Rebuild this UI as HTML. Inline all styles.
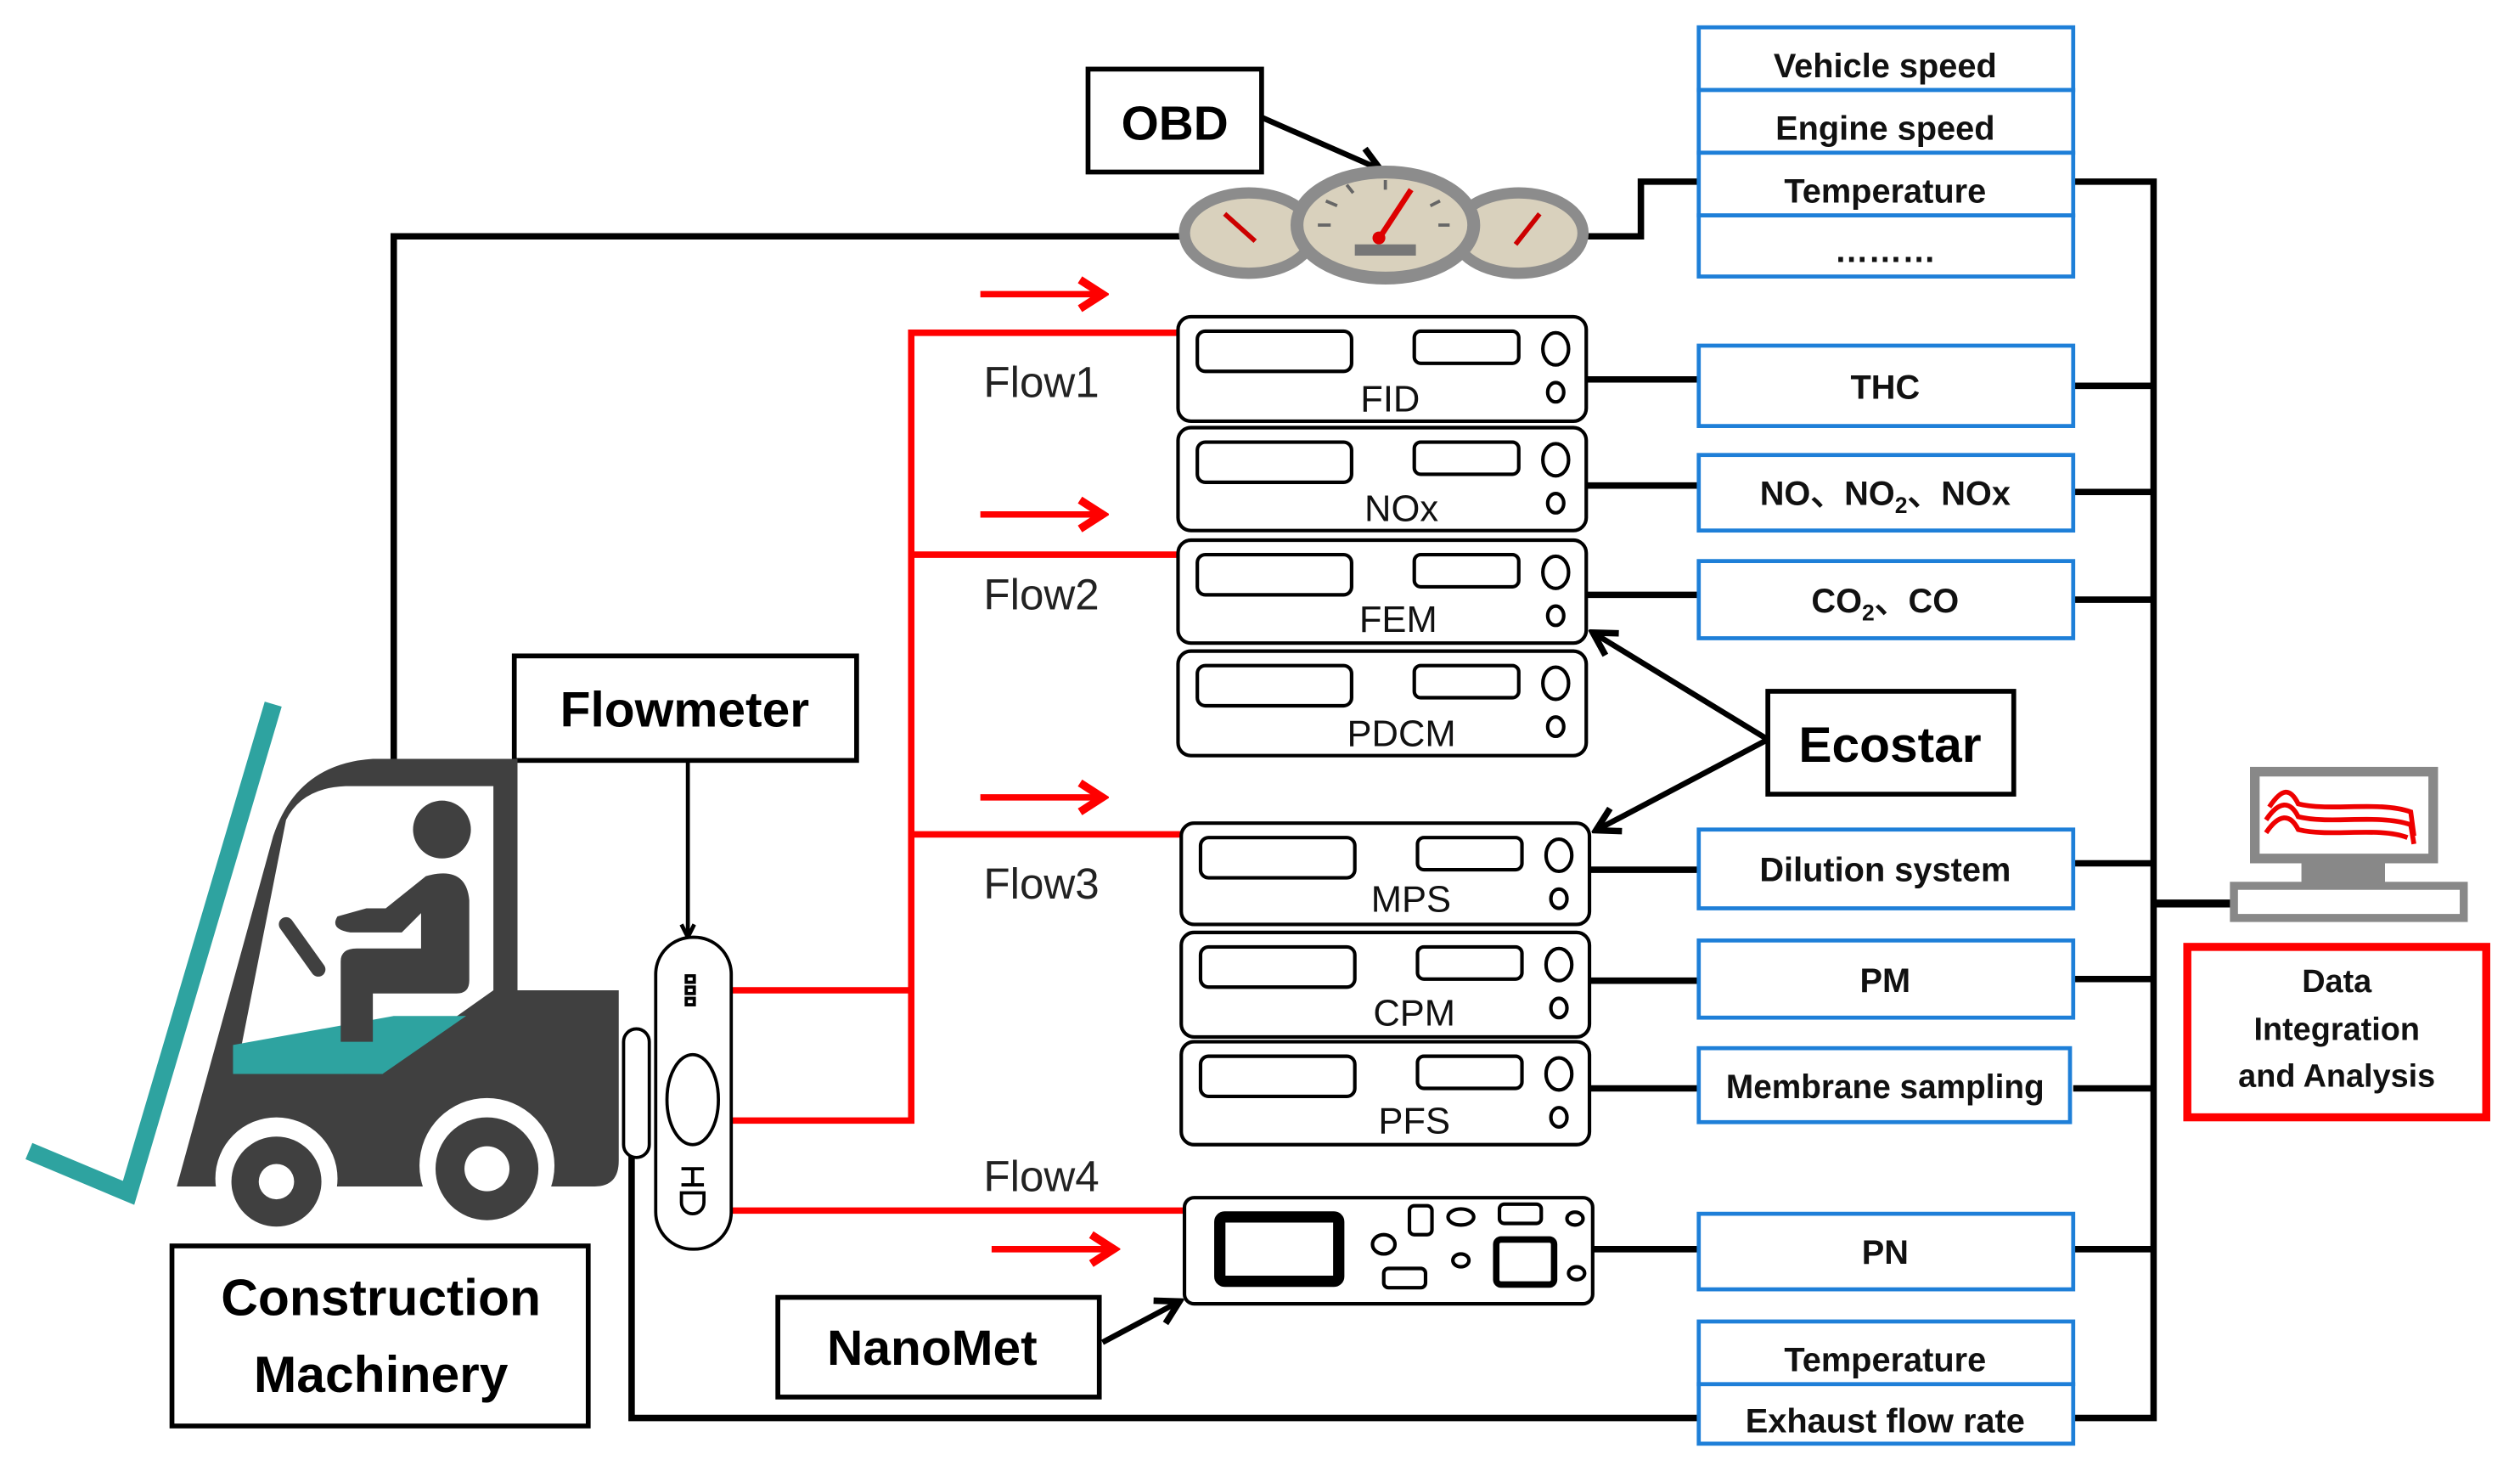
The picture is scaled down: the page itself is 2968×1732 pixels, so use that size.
<!DOCTYPE html>
<html><head><meta charset="utf-8"><style>
html,body{margin:0;padding:0;background:#fff;width:2968px;height:1732px;overflow:hidden}
svg{display:block}
text{font-family:"Liberation Sans",sans-serif}
.b{font-weight:bold}
</style></head><body>
<svg width="2968" height="1732" viewBox="0 0 1568 915" preserveAspectRatio="none" xmlns="http://www.w3.org/2000/svg">
<defs>
<marker id="ah" markerWidth="10" markerHeight="10" refX="8" refY="5" orient="auto" markerUnits="userSpaceOnUse">
<path d="M1,1 L9,5 L1,9" fill="none" stroke="#000" stroke-width="2.5"/>
</marker>
<marker id="ah2" markerWidth="20" markerHeight="20" refX="16" refY="10" orient="auto" markerUnits="userSpaceOnUse">
<path d="M3,2 L17,10 L3,18" fill="none" stroke="#000" stroke-width="4"/>
</marker>
<marker id="rh" markerWidth="24" markerHeight="24" refX="20" refY="12" orient="auto" markerUnits="userSpaceOnUse">
<path d="M6,3 L20,12 L6,21" fill="none" stroke="#f00" stroke-width="5"/>
</marker>
</defs>

<!-- black connectors -->
<g stroke="#000" stroke-width="4" fill="none">
<polyline points="245,475 245,147 735,147"/>
<polyline points="985,147 1021,147 1021,113 1057,113"/>
<polyline points="1290,113 1340,113 1340,882 1290,882"/>
<polyline points="393,690 393,882 1057,882"/>
<line x1="987" y1="236" x2="1057" y2="236"/>
<line x1="1290" y1="240" x2="1340" y2="240"/>
<line x1="987" y1="302" x2="1057" y2="302"/>
<line x1="1290" y1="306" x2="1340" y2="306"/>
<line x1="987" y1="370" x2="1057" y2="370"/>
<line x1="1290" y1="373" x2="1340" y2="373"/>
<line x1="989" y1="541" x2="1057" y2="541"/>
<line x1="1290" y1="537" x2="1340" y2="537"/>
<line x1="989" y1="610" x2="1057" y2="610"/>
<line x1="1290" y1="609" x2="1340" y2="609"/>
<line x1="989" y1="677" x2="1057" y2="677"/>
<line x1="1290" y1="677" x2="1340" y2="677"/>
<line x1="991" y1="777" x2="1057" y2="777"/>
<line x1="1290" y1="777" x2="1340" y2="777"/>
<line x1="1340" y1="562" x2="1392" y2="562" stroke-width="5"/>
</g>

<!-- red flow lines -->
<g stroke="#f00" stroke-width="4" fill="none">
<polyline points="733,207 567,207 567,697 453,697"/>
<line x1="567" y1="345" x2="733" y2="345"/>
<line x1="567" y1="519" x2="735" y2="519"/>
<line x1="453" y1="616" x2="567" y2="616"/>
<line x1="453" y1="753" x2="737" y2="753"/>
<line x1="610" y1="183" x2="686" y2="183" marker-end="url(#rh)"/>
<line x1="610" y1="320" x2="686" y2="320" marker-end="url(#rh)"/>
<line x1="610" y1="496" x2="686" y2="496" marker-end="url(#rh)"/>
<line x1="617" y1="777" x2="693" y2="777" marker-end="url(#rh)"/>
</g>

<g class="b" font-size="27" fill="#000"></g>
<g font-size="27" fill="#222">
<text x="612" y="247">Flow1</text>
<text x="612" y="379">Flow2</text>
<text x="612" y="559">Flow3</text>
<text x="612" y="741">Flow4</text>
</g>

<!-- OBD -->
<rect x="677" y="43" width="108" height="64" fill="#fff" stroke="#000" stroke-width="3"/>
<text x="731" y="87" class="b" font-size="30" text-anchor="middle">OBD</text>
<line x1="785" y1="73" x2="858" y2="105" stroke="#000" stroke-width="3.5" marker-end="url(#ah2)"/>

<!-- gauges -->
<g>
<ellipse cx="777" cy="145" rx="40" ry="25" fill="#d9d1bd" stroke="#8c8c8c" stroke-width="7"/>
<ellipse cx="945" cy="145" rx="40" ry="25" fill="#d9d1bd" stroke="#8c8c8c" stroke-width="7"/>
<line x1="762" y1="133" x2="781" y2="150" stroke="#c00" stroke-width="3"/>
<line x1="958" y1="133" x2="943" y2="152" stroke="#c00" stroke-width="3"/>
<ellipse cx="862" cy="140" rx="55" ry="33" fill="#d9d1bd" stroke="#8c8c8c" stroke-width="8"/>
<line x1="878" y1="118" x2="857" y2="150" stroke="#d00" stroke-width="3.5"/>
<circle cx="858" cy="148" r="4" fill="#d00"/>
<rect x="843" y="152" width="38" height="7" fill="#777"/>
<g stroke="#666" stroke-width="2">
<line x1="820" y1="140" x2="828" y2="140"/><line x1="825" y1="125" x2="832" y2="128"/>
<line x1="838" y1="115" x2="842" y2="120"/><line x1="862" y1="112" x2="862" y2="118"/>
<line x1="896" y1="125" x2="890" y2="128"/><line x1="902" y1="140" x2="895" y2="140"/>
</g>
</g>

<!-- right top blue stack -->
<g fill="#fff" stroke="#1e7fd8" stroke-width="2.5">
<rect x="1057" y="17" width="233" height="39"/>
<rect x="1057" y="56" width="233" height="39"/>
<rect x="1057" y="95" width="233" height="39"/>
<rect x="1057" y="134" width="233" height="38"/>
<rect x="1057" y="215" width="233" height="50"/>
<rect x="1057" y="283" width="233" height="47"/>
<rect x="1057" y="349" width="233" height="48"/>
<rect x="1057" y="516" width="233" height="49"/>
<rect x="1057" y="585" width="233" height="48"/>
<rect x="1057" y="652" width="231" height="46"/>
<rect x="1057" y="755" width="233" height="47"/>
<rect x="1057" y="822" width="233" height="39"/>
<rect x="1057" y="861" width="233" height="37"/>
</g>
<g class="b" font-size="21" text-anchor="middle" fill="#111">
<text x="1173" y="48">Vehicle speed</text>
<text x="1173" y="87">Engine speed</text>
<text x="1173" y="126">Temperature</text>
<text x="1173" y="163">………</text>
<text x="1173" y="248">THC</text>
<text x="1173" y="314">NO、NO<tspan font-size="14" dy="5">2</tspan><tspan dy="-5">、NOx</tspan></text>
<text x="1173" y="381">CO<tspan font-size="14" dy="5">2</tspan><tspan dy="-5">、CO</tspan></text>
<text x="1173" y="548">Dilution system</text>
<text x="1173" y="617">PM</text>
<text x="1173" y="683" textLength="198" lengthAdjust="spacingAndGlyphs">Membrane sampling</text>
<text x="1173" y="786">PN</text>
<text x="1173" y="853">Temperature</text>
<text x="1173" y="891">Exhaust flow rate</text>
</g>

<!-- instruments -->
<g fill="#fff" stroke="#000" stroke-width="2.2">
<g transform="translate(733,197)"><rect width="254" height="65" rx="8"/><rect x="12" y="9" width="96" height="25" rx="5"/><rect x="147" y="9" width="65" height="20" rx="4"/><ellipse cx="235" cy="20" rx="8" ry="10"/><ellipse cx="235" cy="47" rx="5" ry="6"/></g>
<g transform="translate(733,266)"><rect width="254" height="64" rx="8"/><rect x="12" y="9" width="96" height="25" rx="5"/><rect x="147" y="9" width="65" height="20" rx="4"/><ellipse cx="235" cy="20" rx="8" ry="10"/><ellipse cx="235" cy="47" rx="5" ry="6"/></g>
<g transform="translate(733,336)"><rect width="254" height="64" rx="8"/><rect x="12" y="9" width="96" height="25" rx="5"/><rect x="147" y="9" width="65" height="20" rx="4"/><ellipse cx="235" cy="20" rx="8" ry="10"/><ellipse cx="235" cy="47" rx="5" ry="6"/></g>
<g transform="translate(733,405)"><rect width="254" height="65" rx="8"/><rect x="12" y="9" width="96" height="25" rx="5"/><rect x="147" y="9" width="65" height="20" rx="4"/><ellipse cx="235" cy="20" rx="8" ry="10"/><ellipse cx="235" cy="47" rx="5" ry="6"/></g>
<g transform="translate(735,512)"><rect width="254" height="63" rx="8"/><rect x="12" y="9" width="96" height="25" rx="5"/><rect x="147" y="9" width="65" height="20" rx="4"/><ellipse cx="235" cy="20" rx="8" ry="10"/><ellipse cx="235" cy="47" rx="5" ry="6"/></g>
<g transform="translate(735,580)"><rect width="254" height="65" rx="8"/><rect x="12" y="9" width="96" height="25" rx="5"/><rect x="147" y="9" width="65" height="20" rx="4"/><ellipse cx="235" cy="20" rx="8" ry="10"/><ellipse cx="235" cy="47" rx="5" ry="6"/></g>
<g transform="translate(735,648)"><rect width="254" height="64" rx="8"/><rect x="12" y="9" width="96" height="25" rx="5"/><rect x="147" y="9" width="65" height="20" rx="4"/><ellipse cx="235" cy="20" rx="8" ry="10"/><ellipse cx="235" cy="47" rx="5" ry="6"/></g>
<!-- nanomet board -->
<g transform="translate(737,745)"><rect width="254" height="66" rx="6"/>
<rect x="22" y="12" width="74" height="40" rx="3" stroke-width="7"/>
<rect x="140" y="5" width="14" height="18" rx="3"/><ellipse cx="172" cy="12" rx="8" ry="5"/>
<rect x="196" y="4" width="26" height="12" rx="3"/><ellipse cx="243" cy="13" rx="5" ry="4"/>
<ellipse cx="124" cy="29" rx="7" ry="6"/><ellipse cx="172" cy="39" rx="5" ry="4"/>
<rect x="194" y="26" width="36" height="28" rx="3" stroke-width="4"/><ellipse cx="244" cy="47" rx="5" ry="4"/>
<rect x="124" y="44" width="26" height="12" rx="3"/>
</g>
</g>
<g font-size="23" fill="#111" text-anchor="middle">
<text x="865" y="256">FID</text>
<text x="872" y="324">NOx</text>
<text x="870" y="393">FEM</text>
<text x="872" y="464">PDCM</text>
<text x="878" y="567">MPS</text>
<text x="880" y="638">CPM</text>
<text x="880" y="705">PFS</text>
</g>

<!-- Ecostar -->
<rect x="1100" y="430" width="153" height="64" fill="#fff" stroke="#000" stroke-width="3"/>
<text x="1176" y="474" class="b" font-size="31" text-anchor="middle">Ecostar</text>
<line x1="1100" y1="460" x2="992" y2="394" stroke="#000" stroke-width="3.5" marker-end="url(#ah2)"/>
<line x1="1100" y1="460" x2="994" y2="516" stroke="#000" stroke-width="3.5" marker-end="url(#ah2)"/>

<!-- computer -->
<g>
<rect x="1403" y="480" width="111" height="54" fill="#fff" stroke="#888" stroke-width="6"/>
<path d="M1412,502 C1420,490 1425,490 1430,500 C1450,505 1480,498 1500,505 L1502,520" fill="none" stroke="#e00" stroke-width="3"/>
<path d="M1410,510 C1418,498 1425,498 1430,508 C1450,513 1480,506 1500,513 L1502,525" fill="none" stroke="#e00" stroke-width="3"/>
<path d="M1410,518 C1418,506 1425,506 1430,516 C1450,521 1480,514 1498,521" fill="none" stroke="#e00" stroke-width="3"/>
<rect x="1432" y="536" width="52" height="14" fill="#888"/>
<rect x="1390" y="551" width="143" height="20" fill="#fff" stroke="#888" stroke-width="5"/>
</g>
<rect x="1361" y="589" width="186" height="106" fill="#fff" stroke="#f00" stroke-width="5"/>
<g class="b" font-size="20" text-anchor="middle" fill="#111">
<text x="1454" y="617">Data</text>
<text x="1454" y="647">Integration</text>
<text x="1454" y="676">and Analysis</text>
</g>

<!-- Flowmeter -->
<rect x="320" y="408" width="213" height="65" fill="#fff" stroke="#000" stroke-width="3"/>
<text x="426" y="452" class="b" font-size="31" text-anchor="middle">Flowmeter</text>
<line x1="428" y1="473" x2="428" y2="582" stroke="#000" stroke-width="2.5" marker-end="url(#ah)"/>
<!-- flowmeter device -->
<g fill="#fff" stroke="#000" stroke-width="2">
<rect x="388" y="640" width="16" height="80" rx="8"/>
<rect x="408" y="583" width="47" height="194" rx="23"/>
<ellipse cx="431" cy="684" rx="16" ry="28"/>
<rect x="427" y="607" width="5" height="4"/><rect x="427" y="614" width="5" height="4"/><rect x="427" y="621" width="5" height="4"/>
<path d="M424,727 h14 M431,727 v10 M424,737 h14 M424,742 h14 v6 a7,7 0 0 1 -14,0 z"/>
</g>

<!-- NanoMet -->
<rect x="484" y="807" width="200" height="62" fill="#fff" stroke="#000" stroke-width="3"/>
<text x="580" y="849" class="b" font-size="31" text-anchor="middle">NanoMet</text>
<line x1="686" y1="835" x2="733" y2="810" stroke="#000" stroke-width="3.5" marker-end="url(#ah2)"/>

<!-- Construction Machinery -->
<rect x="107" y="775" width="259" height="112" fill="#fff" stroke="#000" stroke-width="3"/>
<g class="b" font-size="32" text-anchor="middle">
<text x="237" y="818">Construction</text>
<text x="237" y="866">Machinery</text>
</g>

<!-- forklift -->
<g>
<polyline points="170,438 80,742 18,716" fill="none" stroke="#2ea3a0" stroke-width="11"/>
<path d="M110,738 L170,520 Q185,475 232,472 L322,472 L322,616 L385,616 L385,722 Q385,738 370,738 Z" fill="#404040"/>
<path d="M178,510 Q188,490 215,489 L307,489 L307,616 L235,667 L147,667 Z" fill="#fff"/>
<path d="M145,668 L238,668 L262,640 L290,632 L245,632 L145,650 Z" fill="#2ea3a0"/>
<path d="M145,667 L145,652 L240,634 L290,632 L238,668 Z" fill="#2ea3a0"/>
<circle cx="275" cy="516" r="18" fill="#404040"/>
<path d="M265,545 Q290,538 292,560 L292,610 Q292,618 284,618 L232,618 L232,648 L212,648 L212,598 Q212,590 222,590 L262,590 L262,568 L250,580 L218,580 Q205,578 210,570 L228,565 L240,565 Z" fill="#404040"/>
<line x1="178" y1="575" x2="198" y2="603" stroke="#404040" stroke-width="9" stroke-linecap="round"/>
<circle cx="172" cy="733" r="38" fill="#fff"/>
<circle cx="303" cy="725" r="42" fill="#fff"/>
<circle cx="172" cy="735" r="28" fill="#404040"/>
<circle cx="172" cy="735" r="11" fill="#fff"/>
<circle cx="303" cy="727" r="32" fill="#404040"/>
<circle cx="303" cy="727" r="14" fill="#fff"/>
</g>
</svg>
</body></html>
